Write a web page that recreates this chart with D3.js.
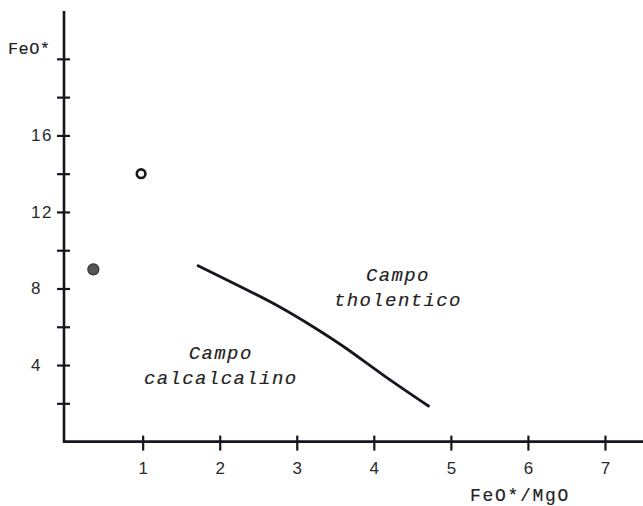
<!DOCTYPE html>
<html>
<head>
<meta charset="utf-8">
<script src="https://cdn.jsdelivr.net/npm/d3@7"></script>
<style>
  body { margin: 0; background: #fff; }
  svg { display: block; }
</style>
</head>
<body>
<div id="chart"></div>
<script>
// sample points (FeO*/MgO, FeO*)
const pointX = [0.36, 0.98];
const pointY = [9.0, 14.0];
const pointFilled = [true, false];

// boundary line between the two fields
const lineX = [1.72, 2.35, 2.78, 3.21, 3.65, 4.08, 4.71];
const lineY = [9.19, 7.94, 7.06, 6.02, 4.88, 3.57, 1.86];

// ticks
const xTicks = [1, 2, 3, 4, 5, 6, 7];
const yTicks = [2, 4, 6, 8, 10, 12, 14, 16, 18, 20];
const yTickLabels = [4, 8, 12, 16];

// field labels
const fieldLabels = [
  { lines: ["Campo", "calcalcalino"], x: 2.0, y: 4.3 },
  { lines: ["Campo", "tholentico"], x: 4.3, y: 8.4 }
];

const width = 643, height = 506;
const ink = "#16161f";
const mono = "'Liberation Mono', 'Courier New', monospace";
const sans = "'Liberation Sans', Arial, sans-serif";

const svg = d3.select("#chart").append("svg")
  .attr("width", width)
  .attr("height", height);

const x = d3.scaleLinear().domain([0, 7.5]).range([65.6, 643.5]);
const y = d3.scaleLinear().domain([0, 22.5]).range([441.6, 11]);
const x0 = 64, y0 = 441.6;

// x axis
const gx = svg.append("g")
  .attr("transform", `translate(0,${y0})`)
  .call(d3.axisBottom(x).tickValues(xTicks).tickSize(8).tickPadding(12).tickFormat(d3.format("d")));
gx.select(".domain").remove();
gx.selectAll(".tick line").attr("y1", -6).attr("y2", 9).attr("stroke", ink).attr("stroke-width", 2.2);
gx.selectAll(".tick text")
  .attr("fill", "#2a2a2a")
  .style("font-family", sans)
  .style("font-size", "17px");
svg.append("line")
  .attr("x1", x0 - 1).attr("x2", width)
  .attr("y1", y0).attr("y2", y0)
  .attr("stroke", ink).attr("stroke-width", 2.6);

// y axis
const gy = svg.append("g")
  .attr("transform", `translate(${x0},0)`)
  .call(d3.axisLeft(y).tickValues(yTicks).tickSize(7)
    .tickFormat(d => yTickLabels.includes(d) ? d : ""));
gy.select(".domain").remove();
gy.selectAll(".tick line").attr("x1", -7).attr("x2", 6).attr("stroke", ink).attr("stroke-width", 2.2);
gy.selectAll(".tick text")
  .attr("x", -33)
  .attr("text-anchor", "start")
  .attr("fill", "#2a2a2a")
  .style("font-family", sans)
  .style("font-size", "17px")
  .style("letter-spacing", "1.5px");
svg.append("line")
  .attr("x1", x0).attr("x2", x0)
  .attr("y1", y.range()[1]).attr("y2", y0 + 1)
  .attr("stroke", ink).attr("stroke-width", 2.6);

// axis titles
svg.append("text")
  .attr("x", 8).attr("y", 54)
  .attr("fill", "#222").attr("stroke", "#222").attr("stroke-width", 0.15)
  .style("font-family", mono)
  .style("font-size", "17px")
  .style("letter-spacing", "0.4px")
  .text("FeO*");

svg.append("text")
  .attr("x", 520).attr("y", 501)
  .attr("text-anchor", "middle")
  .attr("fill", "#222").attr("stroke", "#222").attr("stroke-width", 0.15)
  .style("font-family", mono)
  .style("font-size", "18px")
  .style("letter-spacing", "1.7px")
  .text("FeO*/MgO");

// boundary curve
svg.append("path")
  .datum(lineX.map((v, i) => [v, lineY[i]]))
  .attr("fill", "none")
  .attr("stroke", ink)
  .attr("stroke-width", 2.8)
  .attr("stroke-linecap", "round")
  .attr("d", d3.line().x(d => x(d[0])).y(d => y(d[1])).curve(d3.curveBasis));

// points
svg.selectAll("circle.pt")
  .data(pointX.map((v, i) => ({ x: v, y: pointY[i], filled: pointFilled[i] })))
  .join("circle")
  .attr("class", "pt")
  .attr("cx", d => x(d.x))
  .attr("cy", d => y(d.y))
  .attr("r", d => d.filled ? 5.5 : 4.3)
  .attr("fill", d => d.filled ? "#555" : "#fff")
  .attr("stroke", d => d.filled ? "#333" : ink)
  .attr("stroke-width", d => d.filled ? 1.2 : 2.6);

// field labels
fieldLabels.forEach(f => {
  const t = svg.append("text")
    .attr("text-anchor", "middle")
    .attr("fill", "#222").attr("stroke", "#222").attr("stroke-width", 0.15)
    .style("font-family", mono)
    .style("font-style", "italic")
    .style("font-size", "19px")
    .style("letter-spacing", "1.4px");
  f.lines.forEach((s, i) => {
    t.append("tspan")
      .attr("x", x(f.x) + 1)
      .attr("y", y(f.y) + i * 25)
      .text(s);
  });
});
</script>
</body>
</html>
